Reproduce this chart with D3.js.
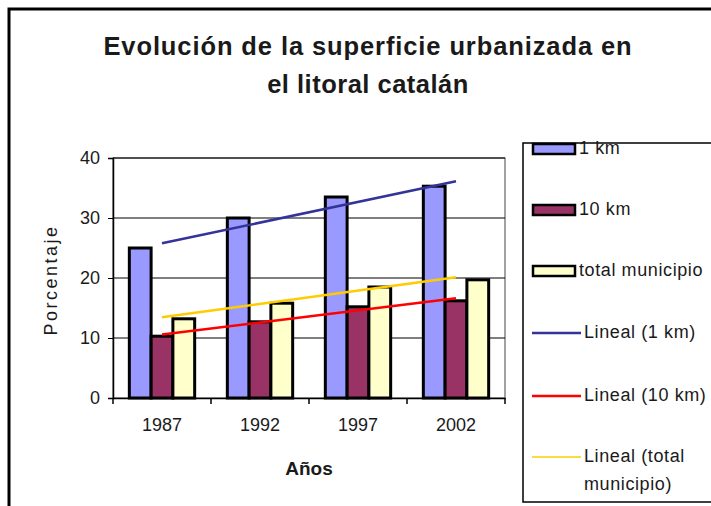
<!DOCTYPE html>
<html>
<head>
<meta charset="utf-8">
<script src="https://cdn.jsdelivr.net/npm/d3@7"></script>
<style>
  body { margin: 0; background: #fff; }
  text { font-family: Arial, "Liberation Sans", sans-serif; fill: #1a1a1a; }
</style>
</head>
<body>
<div id="chart"></div>
<script>
var years = ["1987", "1992", "1997", "2002"];
var series = ["1 km", "10 km", "total municipio"];
var val1km = [25, 30, 33.5, 35.3];
var val10km = [10.3, 12.7, 15.2, 16.2];
var valTotal = [13.2, 15.8, 18.5, 19.7];
var yTicks = [0, 10, 20, 30, 40];
var barColors = ["#9999ff", "#993366", "#ffffcc"];
var trendColors = ["#333399", "#ff0000", "#ffcc00"];
var trendNames = ["Lineal (1 km)", "Lineal (10 km)", ["Lineal (total", "municipio)"]];

var values = [val1km, val10km, valTotal];

var W = 711, H = 506;
var plot = {left: 113, right: 505, top: 158, bottom: 398};

var svg = d3.select("#chart").append("svg")//whole picture
  .attr("width", W)
  .attr("height", H);

svg.append("rect")//outer frame, runs off the right and bottom edges
  .attr("x", 9).attr("y", 9)
  .attr("width", 720).attr("height", 520)
  .attr("fill", "#fff")
  .attr("stroke", "#000")
  .attr("stroke-width", 3);

// title
svg.append("text")
  .attr("x", 368).attr("y", 55)
  .attr("text-anchor", "middle")
  .style("font-size", "25.5px").style("font-weight", "bold").style("letter-spacing", "0.9px")
  .text("Evolución de la superficie urbanizada en");
svg.append("text")
  .attr("x", 368).attr("y", 93)
  .attr("text-anchor", "middle")
  .style("font-size", "25.5px").style("font-weight", "bold").style("letter-spacing", "0.5px")
  .text("el litoral catalán");

var x = d3.scaleBand().domain(years).range([plot.left, plot.right]);
var y = d3.scaleLinear().domain([0, 40]).range([plot.bottom, plot.top]);

// Excel style gap width 150%: group = 3 bars, gap = 1.5 bars
var bw = x.bandwidth() / 4.5;
var xs = d3.scaleBand().domain(series).range([0.75 * bw, 3.75 * bw]);

var g = svg.append("g");

g.append("rect")//plot area
  .attr("x", plot.left).attr("y", plot.top)
  .attr("width", plot.right - plot.left).attr("height", plot.bottom - plot.top)
  .attr("fill", "#fff")
  .attr("stroke", "#444")
  .attr("stroke-width", 1);

g.selectAll("line.grid")//horizontal gridlines
  .data(yTicks.slice(1))
  .enter().append("line")
  .attr("class", "grid")
  .attr("x1", plot.left).attr("x2", plot.right)
  .attr("y1", function(d) { return y(d); })
  .attr("y2", function(d) { return y(d); })
  .attr("stroke", "#000")
  .attr("stroke-width", 1);

// bars
series.forEach(function(s, i) {
  g.selectAll("rect.s" + i)
    .data(values[i])
    .enter().append("rect")
    .attr("class", "s" + i)
    .attr("x", function(d, j) { return x(years[j]) + xs(s); })
    .attr("y", function(d) { return y(d); })
    .attr("width", xs.bandwidth())
    .attr("height", function(d) { return y(0) - y(d); })
    .attr("fill", barColors[i])
    .attr("stroke", "#000")
    .attr("stroke-width", 3);
});

// linear trendlines, least squares like Excel
function trend(vals) {
  var n = vals.length, mx = (n + 1) / 2, my = d3.mean(vals);
  var sxy = 0, sxx = 0;
  vals.forEach(function(v, i) { sxy += (i + 1 - mx) * (v - my); sxx += (i + 1 - mx) * (i + 1 - mx); });
  var b = sxy / sxx, a = my - b * mx;
  return [a + b * 1, a + b * n];
}
var cx = function(yr) { return x(yr) + x.bandwidth() / 2; };
values.forEach(function(vals, i) {
  var t = trend(vals);
  g.append("line")
    .attr("x1", cx(years[0])).attr("y1", y(t[0]))
    .attr("x2", cx(years[years.length - 1])).attr("y2", y(t[1]))
    .attr("stroke", trendColors[i])
    .attr("stroke-width", 2.5);
});

// y axis
var yAxis = g.append("g")
  .attr("transform", "translate(" + plot.left + ",0)")
  .call(d3.axisLeft(y).tickValues(yTicks).tickSize(5).tickPadding(8));
yAxis.select(".domain").attr("stroke", "#000").attr("stroke-width", 1.5);
yAxis.selectAll(".tick line").attr("stroke", "#000");
yAxis.selectAll("text").style("font-size", "18px").attr("fill", "#1a1a1a");

// x axis, tick marks between categories
var xAxis = g.append("g")
  .attr("transform", "translate(0," + plot.bottom + ")")
  .call(d3.axisBottom(x).tickSize(0).tickPadding(20));
xAxis.select(".domain").attr("stroke", "#000").attr("stroke-width", 1.5);
xAxis.selectAll("text").style("font-size", "18px").attr("fill", "#1a1a1a");
xAxis.selectAll("line.sep")
  .data(years.map(function(d) { return x(d); }).concat([plot.right]))
  .enter().append("line")
  .attr("class", "sep")
  .attr("x1", function(d) { return d; }).attr("x2", function(d) { return d; })
  .attr("y1", 0).attr("y2", 6)
  .attr("stroke", "#000").attr("stroke-width", 1.5);

// axis titles
svg.append("text")
  .attr("x", 309).attr("y", 475)
  .attr("text-anchor", "middle")
  .style("font-size", "19px").style("font-weight", "bold")
  .text("Años");
svg.append("text")
  .attr("transform", "translate(57,280) rotate(-90)")
  .attr("text-anchor", "middle")
  .style("font-size", "18px").style("letter-spacing", "2.5px")
  .text("Porcentaje");

// legend
var leg = svg.append("g");
leg.append("rect")
  .attr("x", 523).attr("y", 143)
  .attr("width", 220).attr("height", 359)
  .attr("fill", "#fff")
  .attr("stroke", "#000")
  .attr("stroke-width", 1.5);

var legY = [149, 210, 271, 333, 396, 457];
series.forEach(function(s, i) {
  leg.append("rect")
    .attr("x", 533).attr("y", legY[i] - 5)
    .attr("width", 42).attr("height", 10)
    .attr("fill", barColors[i])
    .attr("stroke", "#000")
    .attr("stroke-width", 2.5);
  leg.append("text")
    .attr("x", 579).attr("y", legY[i] + 5)
    .style("font-size", "18px").style("letter-spacing", "0.6px")
    .text(s);
});
trendNames.forEach(function(t, i) {
  var ly = legY[i + 3];
  leg.append("line")
    .attr("x1", 532).attr("x2", 581)
    .attr("y1", ly).attr("y2", ly)
    .attr("stroke", trendColors[i])
    .attr("stroke-width", i == 2 ? 1.5 : 2.5);
  var lines = Array.isArray(t) ? t : [t];
  lines.forEach(function(line, k) {
    leg.append("text")
      .attr("x", 584).attr("y", ly + 5 + k * 28)
      .style("font-size", "18px").style("letter-spacing", "0.6px")
      .text(line);
  });
});
</script>
</body>
</html>
